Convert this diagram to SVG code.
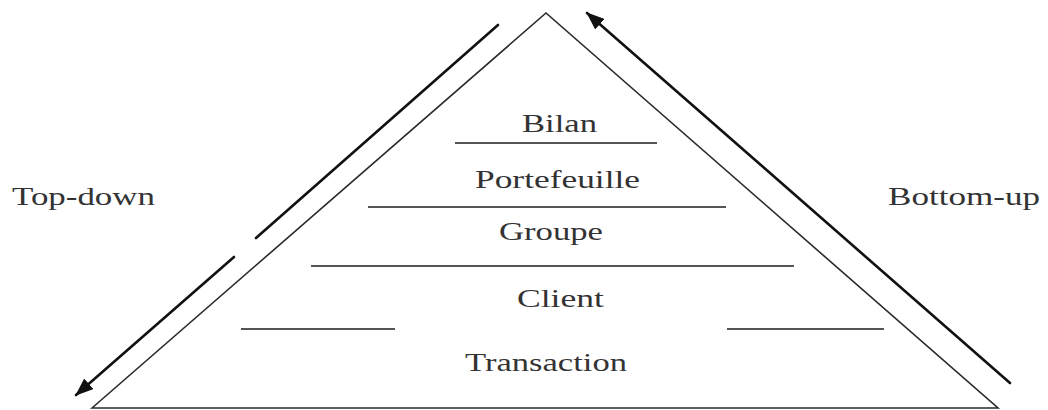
<svg xmlns="http://www.w3.org/2000/svg" width="1048" height="410" viewBox="0 0 1048 410">
  <style>
    .lbl { font-family: "Liberation Serif", "Times New Roman", serif; font-size: 26px; fill: #333; }
    .tier { stroke: #555; stroke-width: 2; fill: none; }
    .edge { stroke: #2a2a2a; stroke-width: 1.6; fill: none; }
    .arrow { stroke: #111; stroke-width: 2.6; fill: none; stroke-linecap: round; }
  </style>
  <defs>
    <marker id="head" viewBox="0 0 18 14" refX="17" refY="7" markerWidth="18" markerHeight="14" markerUnits="userSpaceOnUse" orient="auto">
      <path d="M0,0 L18,7 L0,14 z" fill="#111"/>
    </marker>
  </defs>
  <rect width="1048" height="410" fill="#fff"/>

  <g id="pyramid">
    <path class="edge" d="M92,408 L546,13 L998,408 Z"/>
  </g>

  <g id="tier-bilan">
    <text class="lbl" x="522" y="132" textLength="75" lengthAdjust="spacingAndGlyphs">Bilan</text>
    <line class="tier" x1="455" y1="143" x2="657" y2="143"/>
  </g>
  <g id="tier-portefeuille">
    <text class="lbl" x="475" y="188" textLength="165" lengthAdjust="spacingAndGlyphs">Portefeuille</text>
    <line class="tier" x1="368" y1="207" x2="726" y2="207"/>
  </g>
  <g id="tier-groupe">
    <text class="lbl" x="499" y="240" textLength="104" lengthAdjust="spacingAndGlyphs">Groupe</text>
    <line class="tier" x1="311" y1="266" x2="794" y2="266"/>
  </g>
  <g id="tier-client">
    <text class="lbl" x="517" y="307" textLength="87" lengthAdjust="spacingAndGlyphs">Client</text>
    <line class="tier" x1="241" y1="329" x2="395" y2="329"/>
    <line class="tier" x1="727" y1="329" x2="884" y2="329"/>
  </g>
  <g id="tier-transaction">
    <text class="lbl" x="465" y="371" textLength="162" lengthAdjust="spacingAndGlyphs">Transaction</text>
  </g>

  <g id="label-topdown">
    <text class="lbl" x="12" y="205" textLength="143" lengthAdjust="spacingAndGlyphs">Top-down</text>
  </g>
  <g id="label-bottomup">
    <text class="lbl" x="888" y="205" textLength="152" lengthAdjust="spacingAndGlyphs">Bottom-up</text>
  </g>

  <g id="connectors">
    <line class="arrow" x1="498" y1="25" x2="256" y2="238"/>
    <line class="arrow" x1="234" y1="257" x2="76" y2="395" marker-end="url(#head)"/>
    <line class="arrow" x1="1010" y1="383" x2="587" y2="13" marker-end="url(#head)"/>
  </g>
</svg>
